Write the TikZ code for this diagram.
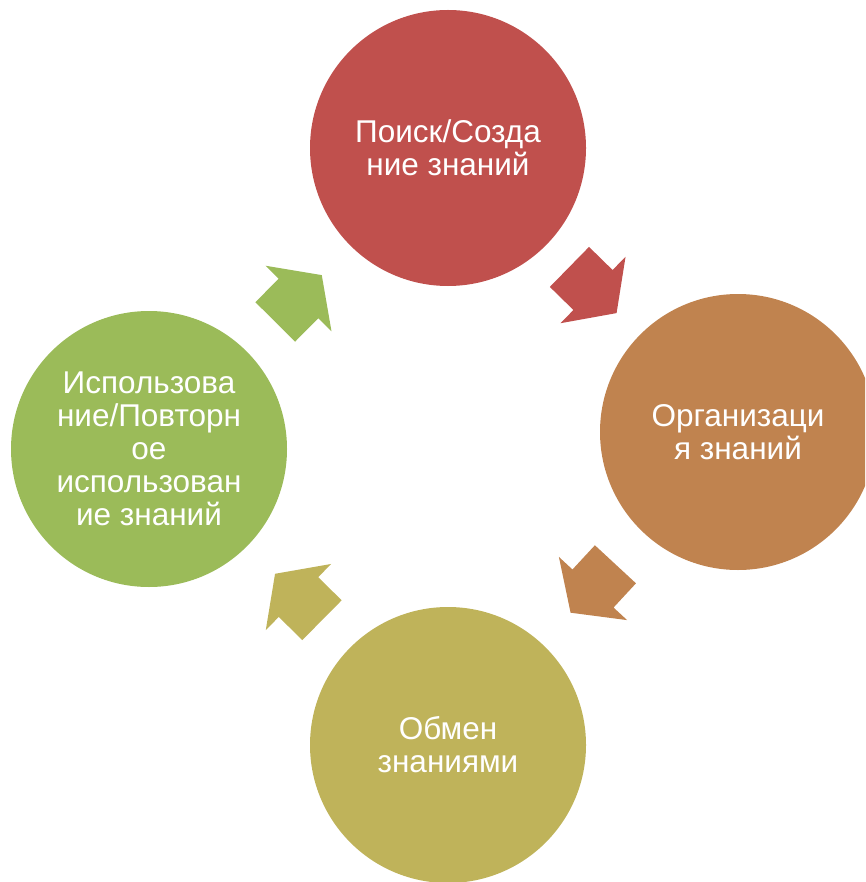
\documentclass[tikz,border=0pt]{standalone}
\usepackage{fontspec}
\setmainfont{Liberation Sans}
\usetikzlibrary{calc}
\definecolor{searchred}{HTML}{C0504D}
\definecolor{orgbrown}{HTML}{C0834F}
\definecolor{shareolive}{HTML}{BFB35A}
\definecolor{usegreen}{HTML}{9BBB59}
\tikzset{stage/.style={circle, minimum size=276pt, inner sep=0pt, text=white, align=center,
  font=\fontsize{31.5}{33}\selectfont}}
% block arrow half way between two stages
\newcommand{\cyclearrow}[3]{%
  \fill[#3] let \p1=($(#2)-(#1)$), \n1={atan2(\y1,\x1)}, \p2=($(#1)!.5!(#2)$) in
    [shift={(\p2)}, rotate=\n1]
    (-33pt,-28pt) -- (0pt,-28pt) -- (0pt,-46.5pt) -- (33pt,0pt) -- (0pt,46.5pt)
    -- (0pt,28pt) -- (-33pt,28pt) -- cycle;
}

\begin{document}
\begin{tikzpicture}[x=1pt,y=-1pt]
\useasboundingbox (0,0) rectangle (865,882);
\clip (0,0) rectangle (865,882);

\node[stage, fill=searchred] (search) at (448,148) {Поиск/Созда\\ние знаний};
\node[stage, fill=orgbrown] (organise) at (738,432) {Организаци\\я знаний};
\node[stage, fill=shareolive] (share) at (448,745) {Обмен\\знаниями};
\node[stage, fill=usegreen] (reuse) at (149,449) {Использова\\ние/Повторн\\ое\\использован\\ие знаний};

\cyclearrow{search}{organise}{searchred}
\cyclearrow{organise}{share}{orgbrown}
\cyclearrow{share}{reuse}{shareolive}
\cyclearrow{reuse}{search}{usegreen}
\end{tikzpicture}
\end{document}
